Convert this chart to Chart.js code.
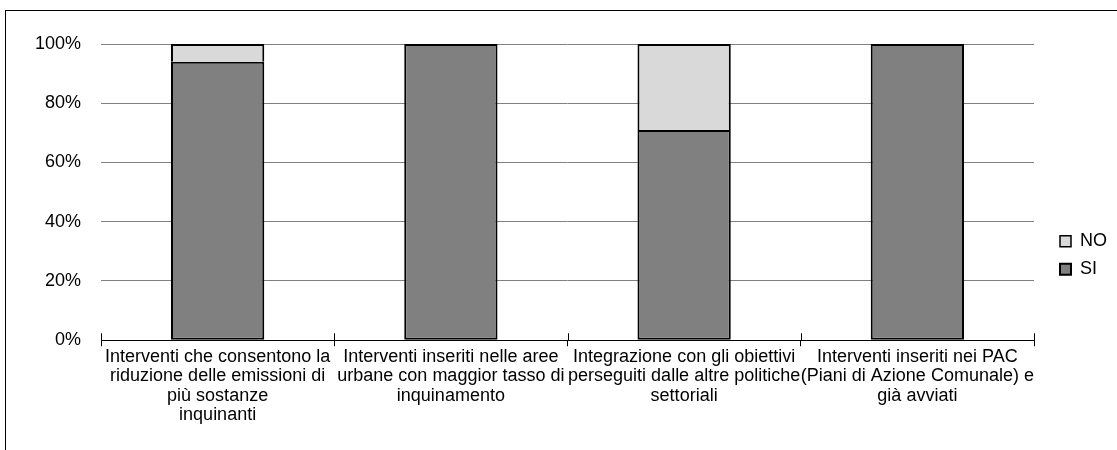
<!DOCTYPE html>
<html>
<head>
<meta charset="utf-8">
<script src="https://cdn.jsdelivr.net/npm/chart.js@4/dist/chart.umd.min.js"></script>
<style>
  body { margin: 0; background: #fff; }
  #frame { position: absolute; left: 5px; top: 10px; width: 1200px; height: 500px; border: 1px solid #000; }
  #grafico { position: absolute; left: 0; top: 0; }
</style>
</head>
<body>
<div id="frame"></div>
<canvas id="grafico" width="1117" height="450"></canvas>
<script>
const categorie = [
  ['Interventi che consentono la', 'riduzione delle emissioni di', 'più sostanze', 'inquinanti'],
  ['Interventi inseriti nelle aree', 'urbane con maggior tasso di', 'inquinamento'],
  ['Integrazione con gli obiettivi', 'perseguiti dalle altre politiche', 'settoriali'],
  ['Interventi inseriti nei PAC', '(Piani di Azione Comunale) e', 'già avviati']
];
const valoriSi = [94, 100, 71, 100];
const valoriNo = [6, 0, 29, 0];
const tickY = [0, 20, 40, 60, 80, 100];

const font = { family: 'Liberation Sans, Arial, sans-serif', size: 18, lineHeight: 1.08 };

// tacche dell'asse x che salgono sopra la linea
const tacchePlugin = {
  id: 'tacche',
  afterDraw(chart) {
    const x = chart.scales.x;
    const ctx = chart.ctx;
    ctx.save();
    ctx.strokeStyle = '#000';
    ctx.lineWidth = 1;
    for (let i = 0; i <= categorie.length; i++) {
      const px = Math.round(x.getPixelForValue(i - 0.5)) + 0.5;
      ctx.beginPath();
      ctx.moveTo(px, x.top - 7);
      ctx.lineTo(px, x.top);
      ctx.stroke();
    }
    ctx.restore();
  }
};

new Chart(document.getElementById('grafico'), {
  type: 'bar',
  data: {
    labels: categorie,
    datasets: [
      {
        label: 'SI',
        data: valoriSi,
        backgroundColor: '#808080',
        borderColor: '#000',
        borderWidth: 2,
        borderSkipped: false
      },
      {
        label: 'NO',
        data: valoriNo,
        backgroundColor: '#d9d9d9',
        borderColor: '#000',
        borderWidth: { top: 2, left: 2, right: 2, bottom: 0 },
        borderSkipped: false
      }
    ]
  },
  options: {
    responsive: false,
    animation: false,
    barPercentage: 0.4,
    categoryPercentage: 1,
    layout: { padding: { top: 44, bottom: 24, left: 0, right: 0 } },
    plugins: {
      tooltip: { enabled: false },
      legend: {
        position: 'right',
        reverse: true,
        title: { display: true, text: '', font: { size: 12 }, padding: 13 },
        labels: {
          color: '#000',
          font: font,
          boxWidth: 11,
          boxHeight: 11,
          padding: 10
        }
      }
    },
    scales: {
      x: {
        stacked: true,
        offset: true,
        grid: { display: true, drawOnChartArea: false, offset: true, tickLength: 6, color: '#000' },
        border: { display: true, color: '#000', width: 1 },
        ticks: { color: '#000', font: font, padding: 1, maxRotation: 0, autoSkip: false }
      },
      y: {
        stacked: true,
        min: 0,
        max: 100,
        afterBuildTicks(s) { s.ticks = tickY.map(v => ({ value: v })); },
        afterFit(s) { s.width = 101; },
        grid: { color: '#808080', lineWidth: 1, drawTicks: false },
        border: { display: false },
        ticks: { color: '#000', font: font, padding: 20, callback: v => v + '%' }
      },
      spazio: {
        position: 'right',
        display: true,
        grid: { display: false },
        border: { display: false },
        ticks: { display: false },
        afterFit(s) { s.width = 16; }
      }
    }
  },
  plugins: [tacchePlugin]
});
</script>
</body>
</html>
